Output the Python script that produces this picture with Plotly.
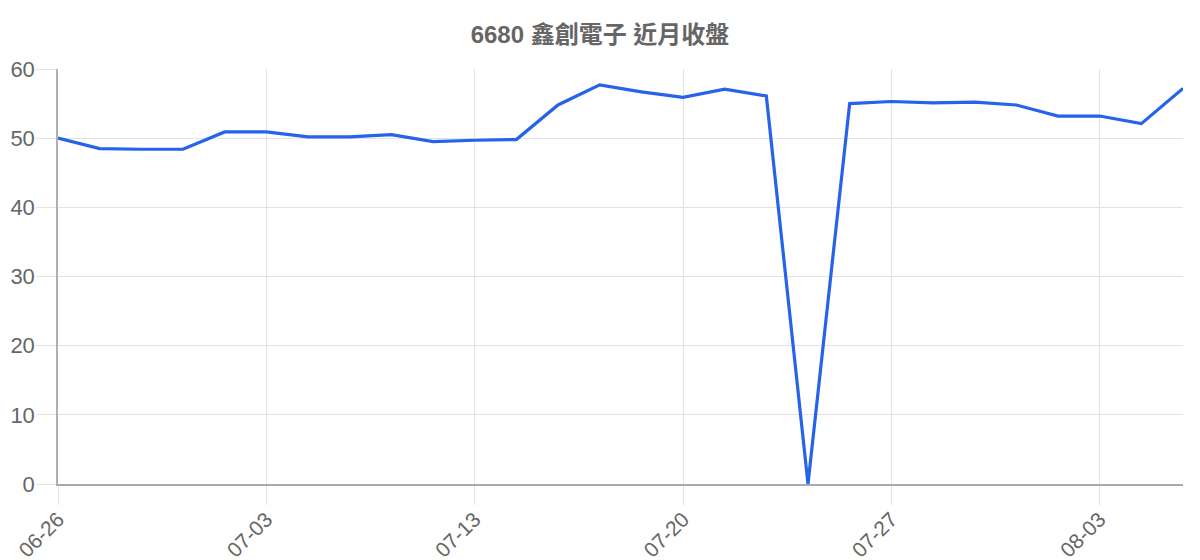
import plotly.graph_objects as go

dates = ["06-26", "06-29", "06-30", "07-01", "07-02", "07-03", "07-06", "07-07",
         "07-08", "07-09", "07-13", "07-14", "07-15", "07-16", "07-17", "07-20",
         "07-21", "07-22", "07-23", "07-24", "07-27", "07-28", "07-29", "07-30",
         "07-31", "08-03", "08-04", "08-05"]
close = [50.0, 48.5, 48.4, 48.4, 50.9, 50.9, 50.2, 50.2,
         50.5, 49.5, 49.7, 49.8, 54.8, 57.7, 56.7, 55.9,
         57.1, 56.1, 0, 55.0, 55.3, 55.1, 55.2, 54.8,
         53.2, 53.2, 52.1, 57.2]
tick_dates = dates[::5]

font = "Liberation Sans, Arial, Noto Sans CJK TC, sans-serif"

fig = go.Figure()
fig.add_trace(go.Scatter(x=dates, y=close, mode="lines",
                         line=dict(color="#2563eb", width=3.2),
                         name="收盤"))

# page body has an 8px margin, so the figure sits at (8, 8)
fig.update_layout(
    width=1200, height=560,
    title=dict(text="<b>6680 鑫創電子 近月收盤</b>", x=592 / 1200, xanchor="center",
               y=1 - 27 / 560, yref="container", yanchor="middle",
               font=dict(family=font, size=24, color="#666666")),
    margin=dict(l=50, r=25, t=61, b=84),
    paper_bgcolor="white", plot_bgcolor="white",
    showlegend=False,
    font=dict(family=font, color="#666666"),
    xaxis=dict(
        type="category", range=[0, len(dates) - 1], automargin=False,
        tickmode="array", tickvals=tick_dates, ticktext=tick_dates,
        tickangle=-45, tickfont=dict(size=21, color="#666666"),
        showgrid=True, gridcolor="#e3e3e3", gridwidth=1,
        ticks="outside", ticklen=19, tickcolor="#e3e3e3",
        showline=True, linecolor="#aaaaaa", linewidth=1.5,
        zeroline=False, ticklabelstandoff=-6,
    ),
    yaxis=dict(
        range=[0, 60], dtick=10, tick0=0, automargin=False,
        tickfont=dict(size=22, color="#666666"),
        showgrid=True, gridcolor="#e3e3e3", gridwidth=1,
        ticks="outside", ticklen=20, tickcolor="#e3e3e3",
        showline=True, linecolor="#b0b0b0", linewidth=1.5,
        zeroline=False, ticklabelstandoff=-3,
    ),
)

fig.write_html("out.html")
